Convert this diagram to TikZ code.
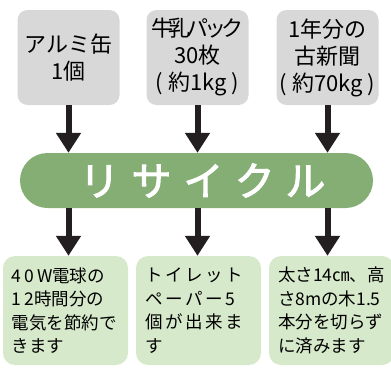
\documentclass[tikz,border=0pt]{standalone}
\usepackage{fontspec}
\setmainfont{Noto Sans CJK JP}
\newfontfamily\rcfont{Noto Sans CJK JP}[FakeBold=2.5,LetterSpace=30]
\usetikzlibrary{arrows.meta}
\definecolor{srcgray}{HTML}{D8D8D8}
\definecolor{pillgreen}{HTML}{84AE74}
\definecolor{resgreen}{HTML}{D7E9CB}
\definecolor{arrowblack}{HTML}{231F20}
\newcommand{\spaced}[1]{{\addfontfeature{LetterSpace=16}#1}}

\begin{document}
\begin{tikzpicture}[x=1pt,y=1pt]
		\tikzstyle{srcbox} = [rectangle,rounded corners=10pt,fill=srcgray,minimum width=102pt,minimum height=95pt,inner sep=0pt,align=center,font=\fontsize{22}{27}\selectfont]
		\tikzstyle{resbox} = [rectangle,rounded corners=12pt,fill=resgreen,minimum width=125pt,minimum height=109pt,inner xsep=9pt,inner ysep=0pt,text width=107pt,align=left,font=\fontsize{17.5}{23.5}\selectfont]
		\tikzstyle{arr} = [draw=arrowblack,line width=6pt,-{Triangle[width=24pt,length=20pt]}]
		\useasboundingbox (0,0) rectangle (391,-367);
		\node[srcbox] (can) at (68.5,-57.5) {アルミ缶\\1個};
		\node[srcbox] (milk) at (197.5,-57.5) {{\addfontfeature{LetterSpace=-20}牛乳パック}\\30枚\\( 約1kg )};
		\node[srcbox] (paper) at (327.5,-57.5) {1年分の\\古新聞\\( 約70kg )};
		\node[rectangle,rounded corners=27.5pt,fill=pillgreen,minimum width=353pt,minimum height=55pt,text=white,font=\fontsize{40}{40}\selectfont] (recycle) at (196.5,-180.5) {\rcfont\hspace{12pt}リサイクル};
		\node[resbox] (bulb) at (65.5,-310.5) {\spaced{40W}電球の\\\spaced{12}時間分の\\電気を節約で\\きます};
		\node[resbox] (tissue) at (198.5,-310.5) {\addfontfeature{LetterSpace=15}トイレット\\ペーパー5\\個が出来ま\\す};
		\node[resbox] (tree) at (331.5,-310.5) {太さ14㎝、高\\さ8mの木1.5\\本分を切らず\\に済みます};
		\draw[arr] (can.south) -- (can.south |- recycle.north);
		\draw[arr] (milk.south) -- (milk.south |- recycle.north);
		\draw[arr] (paper.south) -- (paper.south |- recycle.north);
		\draw[arr] (can.south |- recycle.south) -- (can.south |- bulb.north);
		\draw[arr] (milk.south |- recycle.south) -- (milk.south |- tissue.north);
		\draw[arr] (paper.south |- recycle.south) -- (paper.south |- tree.north);
	\end{tikzpicture}
\end{document}
